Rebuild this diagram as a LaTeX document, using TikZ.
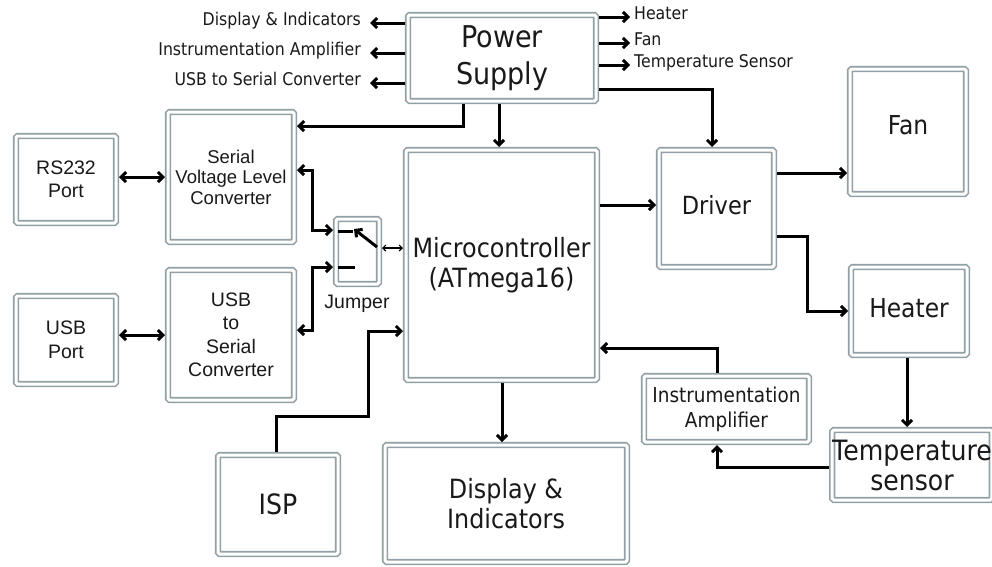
\documentclass[tikz,border=0pt]{standalone}
\usepackage{fontspec}
\setmainfont{DejaVu Sans}[FakeStretch=0.9]
\newfontfamily\arialf{Liberation Sans}
\usetikzlibrary{arrows.meta}
\definecolor{bordergray}{RGB}{145,160,165}
\definecolor{inkc}{RGB}{25,25,25}
\tikzset{
  blk/.style={draw=bordergray, double=white, double distance=3pt, line width=1.6pt,
    rounded corners=1.5pt, fill=white, inner sep=0pt, outer sep=3pt, align=center, text=inkc},
  lbl/.style={inner sep=0pt, text=inkc, font=\fontsize{17.5}{20}\selectfont},
  wire/.style={line width=3pt, draw=black},
  arr/.style={wire, -{Straight Barb[length=5pt,width=10pt]}},
  darr/.style={wire, {Straight Barb[length=5pt,width=10pt]}-{Straight Barb[length=5pt,width=10pt]}},
  thinarr/.style={line width=1.1pt, {Straight Barb[length=3pt,width=6pt]}-{Straight Barb[length=3pt,width=6pt]}}
}
\begin{document}
\begin{tikzpicture}[x=1pt,y=-1pt]
\path[use as bounding box, fill=white] (0,0) rectangle (992,566);

% boxes
\node[blk, minimum width=188pt, minimum height=86pt, font=\fontsize{30}{37}\selectfont] (ps) at (502,58) {Power\\Supply};
\node[blk, minimum width=100pt, minimum height=87pt, font=\arialf\fontsize{19.5}{23}\selectfont] (rs) at (66,179.5) {RS232\\Port};
\node[blk, minimum width=126pt, minimum height=130pt, font=\arialf\fontsize{18.5}{20.5}\selectfont] (vlc) at (231,177) {Serial\\Voltage Level\\Converter};
\node[blk, minimum width=100pt, minimum height=88pt, font=\arialf\fontsize{19.5}{24}\selectfont] (usbp) at (66,340) {USB\\Port};
\node[blk, minimum width=126pt, minimum height=130pt, font=\arialf\fontsize{19.5}{23.5}\selectfont] (u2s) at (231,335) {USB\\to\\Serial\\Converter};
\node[blk, minimum width=43pt, minimum height=65pt] (jmp) at (357.5,251.5) {};
\node[inner sep=0pt, anchor=base, text=inkc, font=\arialf\fontsize{19.5}{23}\selectfont] (jl) at (357,308) {Jumper};
\node[blk, minimum width=191pt, minimum height=230pt, font=\fontsize{26.5}{30}\selectfont] (micro) at (501.5,265) {Microcontroller\\(ATmega16)};
\node[blk, minimum width=115pt, minimum height=117pt, font=\fontsize{25}{30}\selectfont, text depth=8pt] (drv) at (716.5,208.5) {Driver};
\node[blk, minimum width=116pt, minimum height=125pt, font=\fontsize{26}{30}\selectfont, text depth=13pt] (fan) at (908,131.5) {Fan};
\node[blk, minimum width=116pt, minimum height=88pt, font=\fontsize{26}{30}\selectfont, text depth=5pt] (heat) at (909,311) {Heater};
\node[blk, minimum width=165pt, minimum height=66pt, font=\fontsize{20.5}{25}\selectfont] (amp) at (726.5,409) {Instrumentation\\Amplifier};
\node[blk, minimum width=158pt, minimum height=70pt, font=\fontsize{28}{30}\selectfont] (temp) at (912,465) {Temperature\\sensor};
\node[blk, minimum width=120pt, minimum height=99pt, font=\fontsize{28}{30}\selectfont] (isp) at (278,504.5) {ISP};
\node[blk, minimum width=242pt, minimum height=117pt, font=\fontsize{26.5}{30}\selectfont] (disp) at (506,503.5) {Display \&\\Indicators};

% power supply side labels
\node[lbl, anchor=mid east] (tDisp) at (361,23) {Display \& Indicators};
\node[lbl, anchor=mid east] (tAmp) at (361,53) {Instrumentation Amplifier};
\node[lbl, anchor=mid east] (tUsb) at (361,83) {USB to Serial Converter};
\node[lbl, anchor=mid west] (tHeat) at (634,17) {Heater};
\node[lbl, anchor=mid west] (tFan) at (634,43) {Fan};
\node[lbl, anchor=mid west] (tTemp) at (634,65) {Temperature Sensor};

\draw[arr] (ps.west |- tDisp.mid east) -- ([xshift=9pt]tDisp.mid east);
\draw[arr] (ps.west |- tAmp.mid east) -- ([xshift=9pt]tAmp.mid east);
\draw[arr] (ps.west |- tUsb.mid east) -- ([xshift=9pt]tUsb.mid east);
\draw[arr] (ps.east |- tHeat.mid west) -- ([xshift=-4pt]tHeat.mid west);
\draw[arr] (ps.east |- tFan.mid west) -- ([xshift=-4pt]tFan.mid west);
\draw[arr] (ps.east |- tTemp.mid west) -- ([xshift=-4pt]tTemp.mid west);

% power connections
\draw[arr] (ps.south -| 463,0) |- (vlc.east |- 0,126);
\draw[arr] (ps.south -| 499,0) -- (micro.north -| 499,0);
\draw[arr] (ps.east |- 0,89) -| (drv.north -| 712,0);

% serial side
\draw[darr] (rs.east |- 0,177) -- (vlc.west |- 0,177);
\draw[darr] (usbp.east |- 0,335) -- (u2s.west |- 0,335);
\draw[darr] (vlc.east |- 0,170) -| (312,230) -- (jmp.west |- 0,230);
\draw[darr] (u2s.east |- 0,330) -| (312,267) -- (jmp.west |- 0,267);

% jumper internals
\coordinate (jt1) at (338,231);
\coordinate (jt2) at (353,231);
\coordinate (jb1) at (338,267);
\coordinate (jb2) at (355,267);
\coordinate (jp) at (377,247);
\coordinate (jq) at (354,229);
\draw[wire] (jt1) -- (jt2);
\draw[wire] (jb1) -- (jb2);
\draw[arr] (jp) -- (jq);
\draw[thinarr] (jmp.east |- 0,248) -- (micro.west |- 0,248);

% ISP
\draw[arr] (isp.north -| 276,0) |- (368,416) |- (micro.west |- 0,331);

% driver etc.
\draw[arr] (micro.east |- 0,205) -- (drv.west |- 0,205);
\draw[arr] (drv.east |- 0,173) -- (fan.west |- 0,173);
\draw[arr] (drv.east |- 0,236) -| (807,311) -- (heat.west |- 0,311);
\draw[arr] (heat.south -| 907,0) -- (temp.north -| 907,0);
\draw[arr] (temp.west |- 0,467) -| (amp.south -| 717,0);
\draw[arr] (amp.north -| 717,0) |- (micro.east |- 0,348);
\draw[arr] (micro.south -| 502,0) -- (disp.north -| 502,0);
\end{tikzpicture}
\end{document}
